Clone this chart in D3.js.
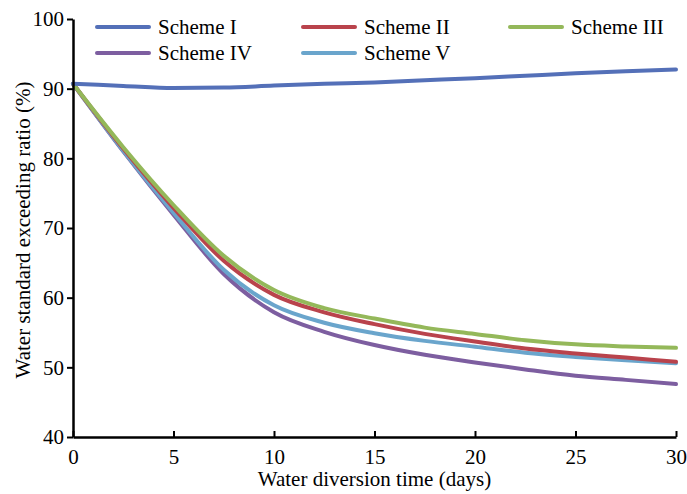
<!doctype html>
<html lang="en">
<head>
<meta charset="UTF-8">
<title>Water standard exceeding ratio</title>
<script src="https://cdn.jsdelivr.net/npm/d3@7"></script>
<style>
  body { margin: 0; background: #fff; }
  svg text { font-family: "Liberation Serif", "Times New Roman", serif !important; fill: #000; }
</style>
</head>
<body>
<script>
  // data
  var days = [0, 2.5, 5, 7.5, 10, 12.5, 15, 17.5, 20, 22.5, 25, 27.5, 30];
  var schemeI   = [90.7, 90.4, 90.1, 90.15, 90.45, 90.7, 90.9, 91.2, 91.5, 91.85, 92.2, 92.5, 92.75];
  var schemeII  = [90.7, 81.4, 72.9, 65.3, 60.4, 57.9, 56.2, 54.8, 53.7, 52.7, 52.0, 51.4, 50.8];
  var schemeIII = [90.7, 81.6, 73.3, 66.0, 61.1, 58.5, 57.0, 55.7, 54.8, 53.9, 53.3, 53.0, 52.8];
  var schemeIV  = [90.7, 81.0, 71.9, 63.4, 57.9, 55.1, 53.2, 51.8, 50.7, 49.7, 48.8, 48.2, 47.6];
  var schemeV   = [90.7, 81.1, 72.2, 64.0, 58.9, 56.4, 54.9, 53.8, 52.95, 52.1, 51.5, 51.0, 50.6];
  var names  = ["Scheme I", "Scheme II", "Scheme III", "Scheme IV", "Scheme V"];
  var colors = ["#5470b8", "#b9434c", "#94b85a", "#7d5ea0", "#6aa5cc"];
  var xTicks = [0, 5, 10, 15, 20, 25, 30];
  var yTicks = [40, 50, 60, 70, 80, 90, 100];

  var width = 687, height = 494;
  var margin = {left: 73, right: 11, top: 19, bottom: 57};

  var svg = d3.select("body").append("svg")
      .attr("width", width)
      .attr("height", height);

  var x = d3.scaleLinear().domain([0, 30]).range([margin.left, width - margin.right]);
  var y = d3.scaleLinear().domain([40, 100]).range([height - margin.bottom, margin.top]);

  var series = [schemeI, schemeII, schemeIII, schemeIV, schemeV];
  // draw order: scheme I on top of the rest like the original
  var drawOrder = [3, 4, 1, 2, 0];

  var line = d3.line()
      .x(function(d, i) { return x(days[i]); })
      .y(function(d) { return y(d); })
      .curve(d3.curveMonotoneX);

  svg.selectAll(".series")
      .data(drawOrder)
      .enter().append("path")
      .attr("class", "series")
      .attr("fill", "none")
      .attr("stroke", function(k) { return colors[k]; })
      .attr("stroke-width", 4)
      .attr("stroke-linecap", "round")
      .attr("d", function(k) { return line(series[k]); });

  // axes
  var xAxis = svg.append("g")
      .attr("transform", "translate(0," + (height - margin.bottom) + ")")
      .call(d3.axisBottom(x).tickValues(xTicks).tickSizeInner(-6).tickSizeOuter(0).tickPadding(12));
  var yAxis = svg.append("g")
      .attr("transform", "translate(" + margin.left + ",0)")
      .call(d3.axisLeft(y).tickValues(yTicks).tickSizeInner(6).tickSizeOuter(0).tickPadding(3));

  [xAxis, yAxis].forEach(function(a) {
    a.attr("font-family", "Liberation Serif");
    a.select(".domain").attr("stroke", "#000").attr("stroke-width", 2.5);
    a.selectAll(".tick line").attr("stroke", "#000").attr("stroke-width", 2);
    a.selectAll(".tick text").style("font-size", "21px");
  });

  svg.append("text")
      .attr("x", (margin.left + width - margin.right) / 2)
      .attr("y", 486)
      .attr("text-anchor", "middle")
      .style("font-size", "21px")
      .text("Water diversion time (days)");

  svg.append("text")
      .attr("transform", "translate(30,230) rotate(-90)")
      .attr("text-anchor", "middle")
      .style("font-size", "21px")
      .text("Water standard exceeding ratio (%)");

  // legend
  var legendPos = [[97, 27], [303, 27], [510, 27], [97, 53], [303, 53]];
  var legend = svg.selectAll(".legend")
      .data(names)
      .enter().append("g")
      .attr("class", "legend")
      .attr("transform", function(d, i) { return "translate(" + legendPos[i][0] + "," + legendPos[i][1] + ")"; });
  legend.append("line")
      .attr("x1", 0).attr("x2", 52)
      .attr("stroke", function(d, i) { return colors[i]; })
      .attr("stroke-width", 4)
      .attr("stroke-linecap", "round");
  legend.append("text")
      .attr("x", 61)
      .attr("dy", "0.33em")
      .style("font-size", "21px")
      .text(function(d) { return d; });
</script>
</body>
</html>
